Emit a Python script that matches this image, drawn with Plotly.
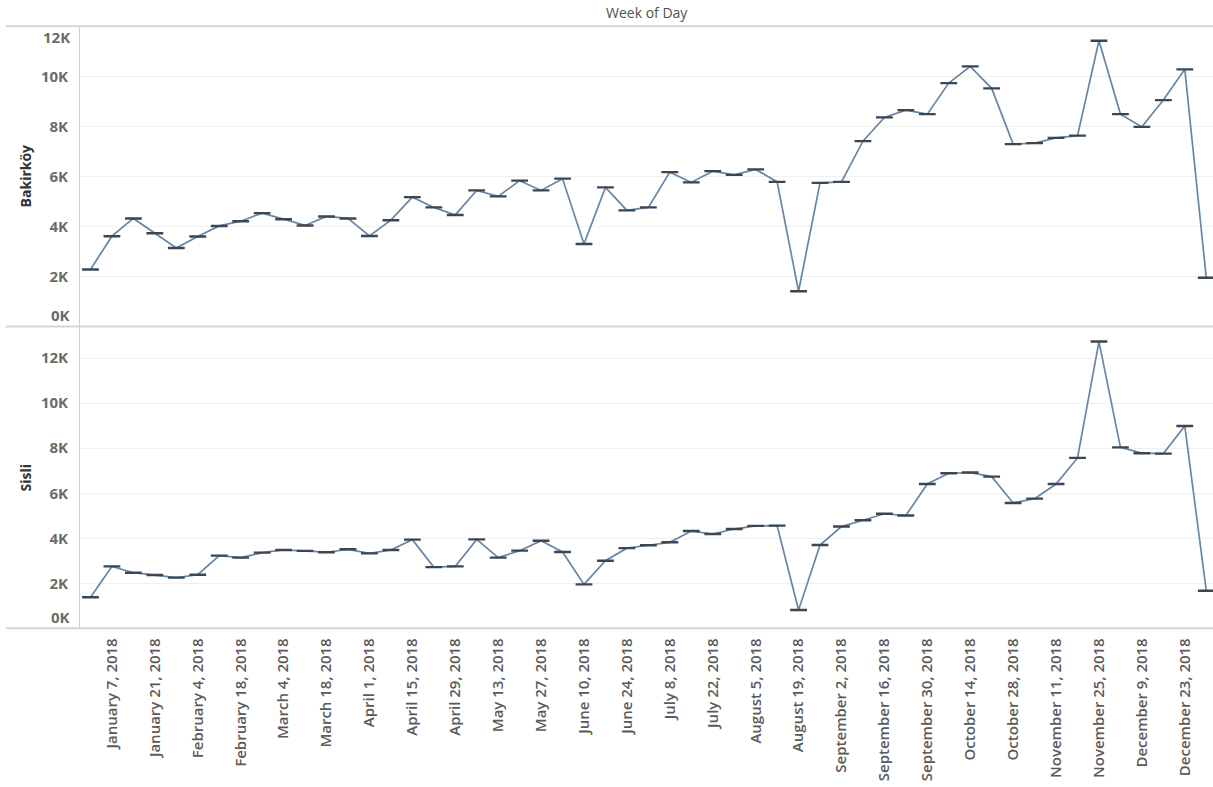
import plotly.graph_objects as go
import pandas as pd

# Weekly categories (week starting Sunday)
weeks = pd.date_range("2017-12-31", periods=53, freq="7D")

bakirkoy = [2280, 3610, 4320, 3730, 3140, 3600, 4020, 4210, 4530, 4290,
            4040, 4400, 4320, 3620, 4250, 5170, 4760, 4460, 5440, 5200,
            5830, 5440, 5910, 3300, 5560, 4640, 4760, 6170, 5760, 6210,
            6060, 6280, 5780, 1410, 5740, 5780, 7410, 8360, 8650, 8490,
            9730, 10400, 9520, 7290, 7330, 7540, 7630, 11420, 8490, 7980,
            9050, 10280, 1950]

sisli = [1380, 2750, 2470, 2370, 2250, 2380, 3230, 3140, 3360, 3480,
         3440, 3380, 3510, 3330, 3480, 3940, 2720, 2750, 3950, 3140,
         3450, 3890, 3390, 1950, 3000, 3560, 3690, 3820, 4320, 4190,
         4410, 4550, 4560, 810, 3700, 4520, 4800, 5090, 5010, 6410,
         6890, 6920, 6740, 5570, 5760, 6410, 7570, 12740, 8040, 7780,
         7760, 8990, 1670]

panel_names = ["Bakirköy", "Sisli"]
top_ticks = [2000, 4000, 6000, 8000, 10000]
bottom_ticks = [2000, 4000, 6000, 8000, 10000, 12000]

tick_dates = weeks[1::2]
tick_text = [f"{d:%B} {d.day}, {d.year}" for d in tick_dates]

W, H = 1213, 787
LINE = "#6686a8"
MARK = "#3c4650"
GRID = "#f0f0f0"
SEP = "#d6d6d6"
TICKC = "#6b6b6b"
FONT = "Open Sans"

fig = go.Figure()
for series, ya in [(bakirkoy, "y"), (sisli, "y2")]:
    fig.add_trace(go.Scatter(
        x=weeks, y=series, mode="lines+markers", yaxis=ya, xaxis="x" if ya == "y" else "x2",
        line=dict(color=LINE, width=1.7),
        marker=dict(symbol="line-ew", size=12, line=dict(color=MARK, width=2.4)),
        showlegend=False, hoverinfo="x+y"))

def py(px):
    return 1 - px / H

x_start = weeks[0] - pd.Timedelta(days=3.42)
x_end = weeks[0] + pd.Timedelta(days=366.2)

common_x = dict(type="date", range=[x_start, x_end], domain=[0, 1], showgrid=False,
                zeroline=False, showline=False, tickvals=list(tick_dates), ticktext=tick_text)

tick_font = dict(family=FONT, size=15, color=TICKC, weight="bold")

fig.update_layout(
    width=W, height=H, margin=dict(l=80, r=0, t=0, b=0),
    paper_bgcolor="white", plot_bgcolor="white",
    font=dict(family=FONT, color=TICKC),
    xaxis=dict(**common_x, anchor="y", showticklabels=False),
    xaxis2=dict(**common_x, anchor="y2", showticklabels=True, tickangle=-90,
                ticklabelstandoff=6,
                tickfont=dict(family=FONT, size=15, color="#5a5a5a", weight=600)),
    yaxis=dict(domain=[py(326.5), py(26.3)], range=[0, 12000], tickvals=top_ticks,
               ticktext=[f"{v//1000}K" for v in top_ticks],
               showgrid=True, gridcolor=GRID, gridwidth=1, zeroline=False,
               showline=True, linecolor="#cfcfcf", linewidth=1,
               ticklabelstandoff=8, tickfont=tick_font),
    yaxis2=dict(domain=[py(628.3), py(326.7)], range=[0, 13400], tickvals=bottom_ticks,
                ticktext=[f"{v//1000}K" for v in bottom_ticks],
                showgrid=True, gridcolor=GRID, gridwidth=1, zeroline=False,
                showline=True, linecolor="#cfcfcf", linewidth=1,
                ticklabelstandoff=8, tickfont=tick_font),
)

# Panel separators
for ypx in [26.3, 326.6, 628.3]:
    fig.add_shape(type="line", xref="paper", yref="paper", x0=-74 / 1133, x1=1,
                  y0=py(ypx), y1=py(ypx), line=dict(color=SEP, width=2), layer="above")

# Edge labels shifted inward (Tableau style)
fig.add_annotation(text="0K", xref="paper", yref="y", x=0, y=0, xanchor="right",
                   yanchor="middle", xshift=-8, yshift=11, showarrow=False, font=tick_font)
fig.add_annotation(text="12K", xref="paper", yref="y", x=0, y=12000, xanchor="right",
                   yanchor="middle", xshift=-8, yshift=-11, showarrow=False, font=tick_font)
fig.add_annotation(text="0K", xref="paper", yref="y2", x=0, y=0, xanchor="right",
                   yanchor="middle", xshift=-8, yshift=11, showarrow=False, font=tick_font)

# Panel row titles
for name, (top, bot) in zip(panel_names, [(26.3, 326.5), (326.7, 628.3)]):
    fig.add_annotation(text=name, xref="paper", yref="paper", x=-55 / 1133,
                       y=py((top + bot) / 2), textangle=-90, showarrow=False,
                       xanchor="center", yanchor="middle",
                       font=dict(family=FONT, size=14, color="#333333", weight="bold"))

# Title
fig.add_annotation(text="Week of Day", xref="paper", yref="paper", x=0.5, y=py(13),
                   xanchor="center", yanchor="middle", showarrow=False,
                   font=dict(family=FONT, size=14, color="#505050"))

fig.write_html("out.html", config={"displayModeBar": False},
               post_script="document.body.style.margin='0';")
